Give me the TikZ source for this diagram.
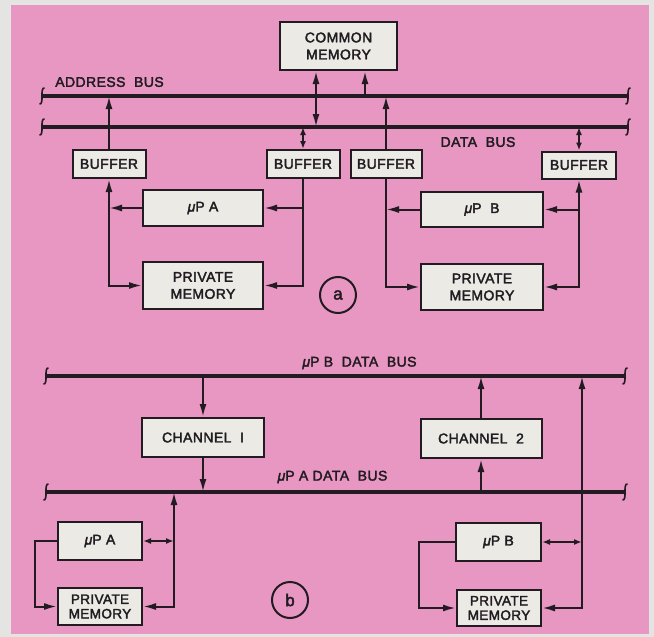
\documentclass[tikz,border=0pt]{standalone}
\usepackage{fontspec}
\setmainfont{Liberation Sans}[FakeBold=2.5, LetterSpace=3]
\usetikzlibrary{arrows.meta}
\definecolor{paperGray}{RGB}{228,228,226}
\definecolor{pagePink}{RGB}{232,150,194}
\definecolor{boxFill}{RGB}{236,234,229}
\definecolor{inkDark}{RGB}{34,28,34}

\tikzset{
  busend/.pic={\draw[inkDark, line width=1.6pt] (2.5,-8) .. controls (-2.5,-9) and (2.5,9) .. (-2.5,8);}
}

\begin{document}
\begin{tikzpicture}[x=1pt, y=-1pt,
    box/.style={draw=inkDark, fill=boxFill, line width=2pt, inner sep=0pt, align=center,
      font=\fontsize{14}{17}\selectfont, text=inkDark},
    bus/.style={draw=inkDark, line width=4pt},
    link/.style={draw=inkDark, line width=2pt, >={Latex[length=13pt,width=7pt]}},
    short/.style={draw=inkDark, line width=2pt, >={Latex[length=8pt,width=6pt]}},
    tag/.style={font=\fontsize{14}{17}\selectfont, text=inkDark, inner sep=0pt},
    ring/.style={draw=inkDark, line width=2pt, circle, minimum size=36pt, inner sep=0pt,
      font=\fontsize{17}{17}\selectfont, text=inkDark}]
  \useasboundingbox (0,0) rectangle (654,637);
  \fill[paperGray] (0,0) rectangle (654,637);
  \fill[pagePink] (11,5) rectangle (649,634);

  % buses
  \coordinate (adrL) at (42,96);   \coordinate (adrR) at (628,96);
  \coordinate (datL) at (42,127);  \coordinate (datR) at (628,127);
  \coordinate (busBL) at (46,376); \coordinate (busBR) at (625,376);
  \coordinate (busAL) at (46,492); \coordinate (busAR) at (625,492);
  \foreach \b in {adr,dat,busB,busA} {
    \draw[bus] (\b L) -- (\b R);
    \pic at (\b L) {busend};
    \pic at (\b R) {busend};
  }
  \node[tag] (adrlbl) at (109.5,82) {ADDRESS\ \ BUS};
  \node[tag] (datlbl) at (478,142) {DATA\ \ BUS};
  \node[tag] (busBlbl) at (359.5,363) {{\itshape μ}P B\ \ DATA\ \ BUS};
  \node[tag] (busAlbl) at (332.5,477) {{\itshape μ}P A\ DATA\ \ BUS};

  % (a) shared bus
  \node[box, minimum width=117, minimum height=48] (cmem) at (338.5,46) {COMMON\\MEMORY};
  \node[box, minimum width=73, minimum height=28] (buf1) at (109,164) {BUFFER};
  \node[box, minimum width=73, minimum height=28] (buf2) at (303,164) {BUFFER};
  \node[box, minimum width=71, minimum height=28] (buf3) at (386,164) {BUFFER};
  \node[box, minimum width=74, minimum height=27] (buf4) at (579,165) {BUFFER};
  \node[box, minimum width=120, minimum height=36] (mpA) at (203,208) {{\itshape μ}P A};
  \node[box, minimum width=122, minimum height=35] (mpB) at (482,209.5) {{\itshape μ}P\ \ B};
  \node[box, minimum width=120, minimum height=47] (pmA) at (203,285.5) {PRIVATE\\MEMORY};
  \node[box, minimum width=122, minimum height=46] (pmB) at (482,287) {PRIVATE\\MEMORY};
  \node[ring] (ringa) at (338,295) {a};

  \draw[link,<->] ([xshift=-22.5]cmem.south) -- ([xshift=-22.5]cmem.south |- datL);
  \draw[link,->] ([xshift=26.5]cmem.south |- adrL) -- ([xshift=26.5]cmem.south);
  \draw[link,->] (buf1.north) -- (buf1.north |- adrL);
  \draw[short,<->] (buf2.north) -- (buf2.north |- datL);
  \draw[link,->] (buf3.north) -- (buf3.north |- adrL);
  \draw[short,<->] (buf4.north) -- (buf4.north |- datL);

  \draw[link,->] (mpA.west) -- (mpA.west -| buf1.south);
  \draw[link,<->] (buf1.south) -- (buf1.south |- pmA.west) -- (pmA.west);
  \draw[link,->] (buf2.south) -- (buf2.south |- pmA.east) -- (pmA.east);
  \draw[link,->] (mpA.east -| buf2.south) -- (mpA.east);

  \draw[link,->] (mpB.west) -- (mpB.west -| buf3.south);
  \draw[link,->] (buf3.south) -- (buf3.south |- pmB.west) -- (pmB.west);
  \draw[link,<->] (buf4.south) -- (buf4.south |- pmB.east) -- (pmB.east);
  \draw[link,->] (mpB.east -| buf4.south) -- (mpB.east);

  % (b) channels
  \node[box, minimum width=122, minimum height=39] (ch1) at (203,437.5) {CHANNEL\ \ I};
  \node[box, minimum width=121, minimum height=39] (ch2) at (481,438.5) {CHANNEL\ \ 2};
  \node[box, minimum width=84, minimum height=38] (mpA2) at (100,541) {{\itshape μ}P A};
  \node[box, minimum width=84, minimum height=37, font=\fontsize{13.5}{14.5}\selectfont] (pmA2) at (100,606.5) {PRIVATE\\MEMORY};
  \node[box, minimum width=85, minimum height=38] (mpB2) at (498.5,542) {{\itshape μ}P B};
  \node[box, minimum width=84, minimum height=36, font=\fontsize{13.5}{14.5}\selectfont] (pmB2) at (499,608) {PRIVATE\\MEMORY};
  \node[ring] (ringb) at (290,600) {b};

  \draw[link,->] (ch1.north |- busBL) -- (ch1.north);
  \draw[link,->] (ch1.south) -- (ch1.south |- busAL);
  \draw[link,->] (ch2.north) -- (ch2.north |- busBL);
  \draw[link,->] (ch2.south |- busAL) -- (ch2.south);

  \draw[link,<->] (pmA2.east) -- ++(31,0) coordinate (jA) -- (jA |- busAL);
  \draw[short,<->] (mpA2.east) -- (mpA2.east -| jA);
  \draw[link,->] (mpA2.west) -- ++(-22,0) |- (pmA2.west);

  \draw[link,<->] (pmB2.east) -- ++(40,0) coordinate (jB) -- (jB |- busBL);
  \draw[short,<->] (mpB2.east) -- (mpB2.east -| jB);
  \draw[link,->] (mpB2.west) -- ++(-36,0) |- (pmB2.west);
\end{tikzpicture}
\end{document}
